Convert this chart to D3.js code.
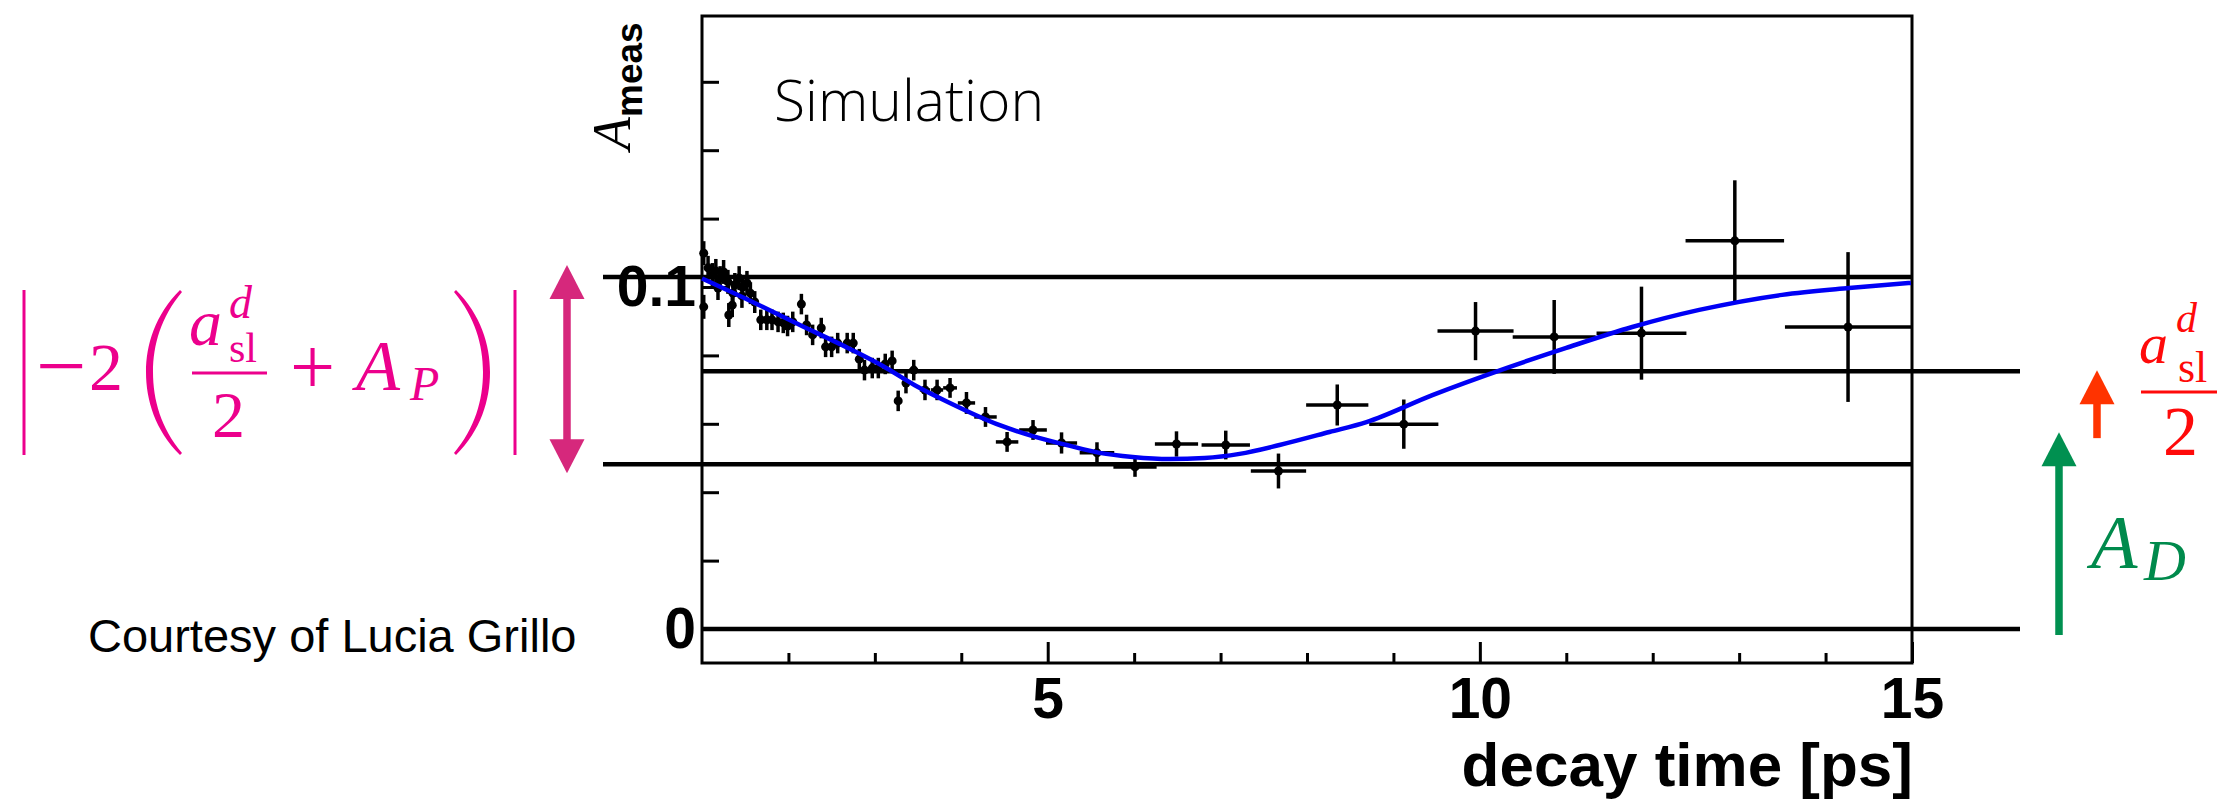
<!DOCTYPE html>
<html>
<head>
<meta charset="utf-8">
<script src="https://cdn.jsdelivr.net/npm/d3@7"></script>
<style>
  body { margin: 0; background: #fff; }
  svg { display: block; }
  .serif { font-family: "Liberation Serif", "Times New Roman", serif; }
</style>
</head>
<body>
<div id="chart-area"></div>
<script>
// values
var decayTime = [1.02, 1.02, 1.07, 1.12, 1.16, 1.185, 1.21, 1.25, 1.30, 1.31, 1.35, 1.358, 1.38, 1.43, 1.462, 1.47, 1.52,
  1.56, 1.61, 1.68, 1.75, 1.81, 1.88, 1.94, 1.99, 2.05, 2.15, 2.21, 2.28, 2.38, 2.43, 2.50, 2.57, 2.68, 2.75,
  2.82, 2.88, 2.97, 3.04, 3.12, 3.20, 3.27, 3.36, 3.45, 3.58, 3.72, 3.87, 4.06, 4.28, 4.53, 4.83, 5.16, 5.57,
  6.01, 6.49, 7.06, 7.67, 8.35, 9.12, 9.95, 10.86, 11.87, 12.95, 14.26];
var timeErr = [0.02, 0.02, 0.025, 0.025, 0.025, 0.025, 0.025, 0.025, 0.025, 0.025, 0.025, 0.025, 0.025, 0.025, 0.025, 0.025, 0.025,
  0.03, 0.03, 0.03, 0.03, 0.03, 0.03, 0.03, 0.03, 0.03, 0.03, 0.03, 0.03, 0.03, 0.03, 0.03, 0.035, 0.035, 0.035,
  0.035, 0.035, 0.035, 0.035, 0.04, 0.04, 0.04, 0.045, 0.05, 0.06, 0.07, 0.08, 0.10, 0.13, 0.13, 0.16, 0.18, 0.20,
  0.25, 0.25, 0.28, 0.32, 0.36, 0.40, 0.44, 0.48, 0.52, 0.57, 0.73];
var asym = [0.1099, 0.0942, 0.1056, 0.1035, 0.1047, 0.0997, 0.1026, 0.1044, 0.1015, 0.0918, 0.0947, 0.0982, 0.1006, 0.1026, 0.0974, 0.1000, 0.1012,
  0.0982, 0.0956, 0.0904, 0.0904, 0.0904, 0.0898, 0.0895, 0.0886, 0.0898, 0.0950, 0.0889, 0.0860, 0.0880, 0.0825, 0.0825, 0.0836, 0.0836, 0.0836,
  0.0789, 0.0757, 0.0763, 0.0763, 0.0775, 0.0784, 0.0667, 0.0719, 0.0757, 0.0699, 0.0699, 0.0705, 0.0661, 0.0620, 0.0547, 0.0582, 0.0544, 0.0515,
  0.0474, 0.0541, 0.0538, 0.0462, 0.0655, 0.0599, 0.0871, 0.0854, 0.0865, 0.1135, 0.0883];
var asymErr = [0.0035, 0.0035, 0.0035, 0.0035, 0.0035, 0.0035, 0.0035, 0.0035, 0.0035, 0.0035, 0.0035, 0.0035, 0.0035, 0.0035, 0.0035, 0.0035, 0.0035,
  0.0032, 0.0032, 0.0030, 0.0030, 0.0030, 0.0030, 0.0030, 0.0030, 0.0030, 0.0030, 0.0030, 0.0030, 0.0030, 0.0030, 0.0030, 0.0030, 0.0030, 0.0030,
  0.0030, 0.0030, 0.0030, 0.0030, 0.0030, 0.0030, 0.0030, 0.0030, 0.0030, 0.0030, 0.0030, 0.0029, 0.0032, 0.0029, 0.0029, 0.0029, 0.0031, 0.0031,
  0.0029, 0.0037, 0.0042, 0.0051, 0.0060, 0.0072, 0.0085, 0.0108, 0.0136, 0.0177, 0.0219];

// fitted curve
var fitTime = [1.0, 1.555, 2.133, 2.711, 3.092, 3.462, 3.844, 4.445, 4.827, 5.220, 5.601, 5.983, 6.410, 6.815,
  7.220, 7.682, 8.260, 8.688, 9.451, 10.306, 11.0, 11.763, 12.538, 13.497, 14.272, 14.988];
var fitAsym = [0.1025, 0.0960, 0.0889, 0.0819, 0.0769, 0.0713, 0.0664, 0.0596, 0.0564, 0.0538, 0.0515, 0.0503, 0.0497, 0.0500,
  0.0512, 0.0538, 0.0576, 0.0605, 0.0684, 0.0763, 0.0822, 0.0883, 0.0933, 0.0977, 0.0997, 0.1012];

// horizontal guide levels drawn over the plot
var levelValues = [0.1029, 0.0754, 0.0482, 0];

var xMajorTicks = [5, 10, 15];
var xMinorTicks = [2, 3, 4, 6, 7, 8, 9, 11, 12, 13, 14];
var yMajorTicks = [0, 0.1];
var yMinorTicks = [0.02, 0.04, 0.06, 0.08, 0.12, 0.14, 0.16];

var margin = { left: 702, top: 16 };
var width = 1210, height = 647;
var sans = '"Liberation Sans", Arial, sans-serif';

var svg = d3.select('#chart-area')
  .append('svg')
    .attr('width', 2230)
    .attr('height', 801);

svg.append('rect').attr('width', 2230).attr('height', 801).attr('fill', '#fff');

var g = svg.append('g')
  .attr('transform', 'translate(' + margin.left + ',' + margin.top + ')');

var x = d3.scaleLinear().domain([1, 15]).range([0, width]);
var y = d3.scaleLinear().domain([-0.00994, 0.17924]).range([height, 0]);

// axes (ROOT style, ticks inside)
function styleAxis(sel) {
  sel.select('.domain').remove();
  sel.selectAll('line').attr('stroke', '#000').attr('stroke-width', 3);
  sel.selectAll('text')
    .attr('font-family', sans)
    .attr('font-weight', 'bold')
    .attr('font-size', 57)
    .attr('fill', '#000');
}

g.append('g')
  .call(d3.axisLeft(y).tickValues(yMinorTicks).tickSize(-17).tickFormat(''))
  .call(styleAxis);
g.append('g')
  .call(d3.axisLeft(y).tickValues(yMajorTicks).tickSize(-28).tickPadding(6).tickFormat(d3.format('~g')))
  .call(styleAxis);

g.append('g')
  .attr('transform', 'translate(0,' + height + ')')
  .call(d3.axisBottom(x).tickValues(xMinorTicks).tickSize(-10).tickFormat(''))
  .call(styleAxis);
g.append('g')
  .attr('transform', 'translate(0,' + height + ')')
  .call(d3.axisBottom(x).tickValues(xMajorTicks).tickSize(-21).tickPadding(15))
  .call(styleAxis);

// frame
g.append('rect')
  .attr('width', width).attr('height', height)
  .attr('fill', 'none').attr('stroke', '#000').attr('stroke-width', 3);

// guide lines
var lineSpans = [[-99, width + 1], [0, width + 108], [-99, width + 1], [0, width + 108]];
g.selectAll('.level').data(levelValues)
  .enter().append('line')
    .attr('class', 'level')
    .attr('x1', function(d, i) { return lineSpans[i][0]; })
    .attr('x2', function(d, i) { return lineSpans[i][1]; })
    .attr('y1', function(d) { return y(d); })
    .attr('y2', function(d) { return y(d); })
    .attr('stroke', '#000').attr('stroke-width', 4.5);

// data points with error bars
var points = decayTime.map(function(t, i) {
  return { t: t, v: asym[i], te: timeErr[i], ve: asymErr[i] };
});

var pts = g.append('g');
pts.selectAll('.ey').data(points).enter().append('line')
  .attr('x1', function(d) { return x(d.t); }).attr('x2', function(d) { return x(d.t); })
  .attr('y1', function(d) { return y(d.v - d.ve); }).attr('y2', function(d) { return y(d.v + d.ve); })
  .attr('stroke', '#000').attr('stroke-width', 3.5);
pts.selectAll('.ex').data(points).enter().append('line')
  .attr('x1', function(d) { return x(d.t - d.te); }).attr('x2', function(d) { return x(d.t + d.te); })
  .attr('y1', function(d) { return y(d.v); }).attr('y2', function(d) { return y(d.v); })
  .attr('stroke', '#000').attr('stroke-width', 3.5);
pts.selectAll('circle').data(points).enter().append('circle')
  .attr('cx', function(d) { return x(d.t); })
  .attr('cy', function(d) { return y(d.v); })
  .attr('r', 4.5).attr('fill', '#000');

// fit curve
var line = d3.line()
  .x(function(d) { return x(d[0]); })
  .y(function(d) { return y(d[1]); })
  .curve(d3.curveMonotoneX);
g.append('path')
  .datum(fitTime.map(function(t, i) { return [t, fitAsym[i]]; }))
  .attr('d', line)
  .attr('fill', 'none').attr('stroke', '#0000f5').attr('stroke-width', 4.5);

// axis titles
g.append('text')
  .attr('x', width + 1).attr('y', 770)
  .attr('text-anchor', 'end')
  .attr('font-family', sans)
  .attr('font-weight', 'bold').attr('font-size', 62)
  .text('decay time [ps]');

var yTitle = svg.append('text')
  .attr('transform', 'translate(630,150) rotate(-90)');
yTitle.append('tspan').attr('class', 'serif').attr('font-style', 'italic').attr('font-size', 54).text('A');
yTitle.append('tspan').attr('dy', 12)
  .attr('font-family', sans)
  .attr('font-weight', 'bold').attr('font-size', 37).text('meas');

svg.append('text')
  .attr('x', 774).attr('y', 121)
  .attr('font-family', '"Open Sans", sans-serif').attr('font-weight', 300).attr('font-size', 57)
  .text('Simulation');

svg.append('text')
  .attr('x', 88).attr('y', 652)
  .attr('font-family', sans).attr('font-size', 47)
  .text('Courtesy of Lucia Grillo');

// annotation arrows
function py(v) { return margin.top + y(v); }

function vArrow(x0, yTop, yBot, color, headTop, headBot) {
  var hw = 17.5, hh = 34, sw = 3.75;
  var y0 = headTop ? yTop + hh : yTop;
  var y1 = headBot ? yBot - hh : yBot;
  svg.append('rect')
    .attr('x', x0 - sw).attr('y', y0 - 1).attr('width', 2 * sw).attr('height', y1 - y0 + 2)
    .attr('fill', color);
  if (headTop) {
    svg.append('path').attr('d', 'M' + x0 + ',' + yTop + 'L' + (x0 + hw) + ',' + (yTop + hh) + 'L' + (x0 - hw) + ',' + (yTop + hh) + 'Z')
      .attr('fill', color);
  }
  if (headBot) {
    svg.append('path').attr('d', 'M' + x0 + ',' + yBot + 'L' + (x0 + hw) + ',' + (yBot - hh) + 'L' + (x0 - hw) + ',' + (yBot - hh) + 'Z')
      .attr('fill', color);
  }
}

var pink = '#ec008c', pinkArrow = '#d6287c';
var red = '#ff0a0a', redArrow = '#ff3300';
var green = '#008a4c', greenArrow = '#009050';

vArrow(567, py(levelValues[0]) - 12, py(levelValues[2]) + 9, pinkArrow, true, true);
vArrow(2097, py(levelValues[1]) - 1, py(levelValues[1]) + 66, redArrow, true, false);
vArrow(2059, py(levelValues[1]) + 61, py(levelValues[3]) + 5, greenArrow, true, false);

// pink formula |-2 (a_sl^d/2 + A_P)|
function txt(xp, yp, s, size, color, italic) {
  return svg.append('text').attr('class', 'serif')
    .attr('x', xp).attr('y', yp)
    .attr('font-size', size).attr('fill', color)
    .attr('font-style', italic ? 'italic' : 'normal')
    .text(s);
}

svg.append('line').attr('x1', 24).attr('x2', 24).attr('y1', 290).attr('y2', 455).attr('stroke', pink).attr('stroke-width', 3);
svg.append('line').attr('x1', 515).attr('x2', 515).attr('y1', 290).attr('y2', 455).attr('stroke', pink).attr('stroke-width', 3);
txt(36, 396, '\u2212', 90, pink, false);
txt(89, 390, '2', 68, pink, false);
svg.append('path')
  .attr('d', 'M180,290 C155,315 146,345 146,372 C146,400 155,430 180,455 L182,453 C161,428 153,400 153,372 C153,345 161,317 182,292 Z')
  .attr('fill', pink);
svg.append('path')
  .attr('d', 'M456,290 C481,315 490,345 490,372 C490,400 481,430 456,455 L454,453 C475,428 483,400 483,372 C483,345 475,317 454,292 Z')
  .attr('fill', pink);
txt(189, 345, 'a', 66, pink, true);
txt(229, 318, 'd', 46, pink, true);
txt(229, 362, 'sl', 42, pink, false);
svg.append('line').attr('x1', 192).attr('x2', 267).attr('y1', 373).attr('y2', 373).attr('stroke', pink).attr('stroke-width', 3);
txt(212, 437, '2', 66, pink, false);
txt(290, 394, '+', 80, pink, false);
txt(356, 390, 'A', 72, pink, true);
txt(410, 400, 'P', 48, pink, true);

// red fraction a_sl^d / 2
txt(2139, 363, 'a', 58, red, true);
txt(2176, 332, 'd', 42, red, true);
txt(2178, 382, 'sl', 44, red, false);
svg.append('line').attr('x1', 2141).attr('x2', 2217).attr('y1', 392).attr('y2', 392).attr('stroke', red).attr('stroke-width', 3);
txt(2163, 455, '2', 70, red, false);

// green A_D
txt(2091, 568, 'A', 76, green, true);
txt(2144, 580, 'D', 58, green, true);
</script>
</body>
</html>
